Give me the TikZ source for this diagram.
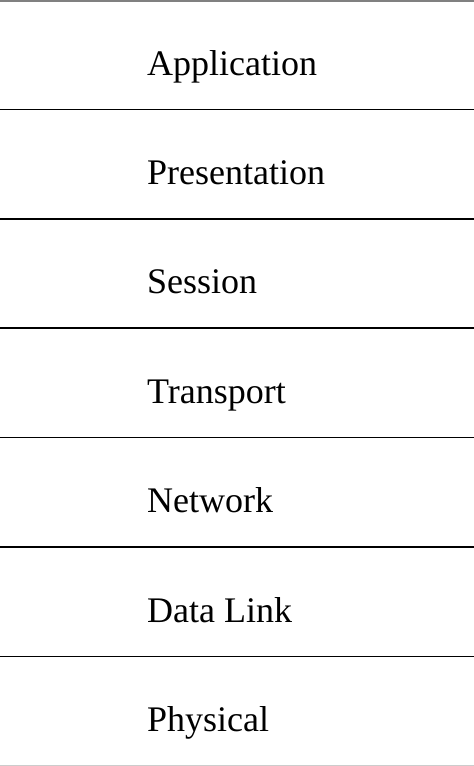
\documentclass[tikz,border=0pt]{standalone}
\usepackage{fontspec}
\setmainfont{Liberation Serif}
\begin{document}
\begin{tikzpicture}[x=1pt,y=-1pt]
  \useasboundingbox (0,0) rectangle (474,766);
  \draw[gray,line width=1.5pt] (0,0.75) -- (474,0.75);
  \foreach \name [count=\i] in {Application,Presentation,Session,Transport,Network,Data Link,Physical}
    \node[anchor=base west,inner sep=0pt,font=\fontsize{36}{40}\selectfont] (layer\i) at (147,{75+109.4*(\i-1)}) {\name};
  \foreach \i in {1,...,6}
    \draw[line width=1.5pt] (0,{109.4*\i}) -- (474,{109.4*\i});
  \draw[gray!40,line width=1.5pt] (0,765.25) -- (474,765.25);
\end{tikzpicture}
\end{document}
